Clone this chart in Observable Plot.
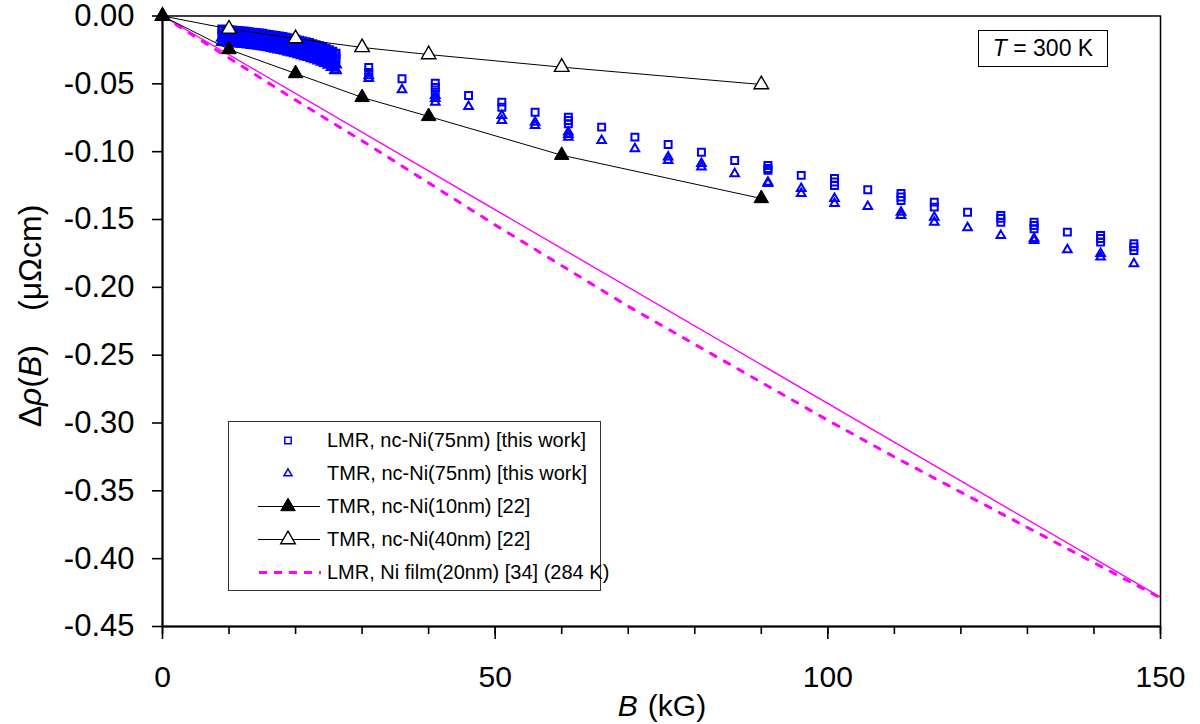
<!DOCTYPE html>
<html><head><meta charset="utf-8">
<script src="https://cdn.jsdelivr.net/npm/d3@7"></script>
<script src="https://cdn.jsdelivr.net/npm/@observablehq/plot@0.6"></script>
<style>
body{margin:0;background:#fff;font-family:"Liberation Sans",Arial,sans-serif;}
#wrap{position:relative;width:1200px;height:724px;}
#legend{position:absolute;left:228px;top:421px;width:373px;height:170px;border:1px solid #333;background:#fff;box-sizing:border-box;}
#legend .row{position:absolute;left:0;height:33px;display:flex;align-items:center;white-space:nowrap;font-size:20px;color:#000;}
#legend svg{display:block;}
#tbox{position:absolute;left:978px;top:30px;width:130px;height:37px;border:1px solid #000;box-sizing:border-box;background:#fff;font-size:23px;display:flex;align-items:center;justify-content:center;white-space:pre;}
</style></head><body><div id="wrap"></div><script>
// ---------- data ----------
const xMajorTicks = [0, 50, 100, 150];
const xMinorTicks = [0,10,20,30,40,50,60,70,80,90,100,110,120,130,140,150];
const yTicks = [0,-0.05,-0.10,-0.15,-0.20,-0.25,-0.30,-0.35,-0.40,-0.45];

// LMR / TMR nc-Ni(75nm): dense sweep region
const denseB = [9,9.5,10,10.5,11,11.5,12,12.5,13,13.5,14,14.5,15,15.5,16,16.5,17,17.5,18,18.5,19,19.5,20,20.5,21,21.5,22,22.5,23,23.5,24,24.5,25,25.5,26];
const lmrDenseA = [-0.0100,-0.0103,-0.0106,-0.0108,-0.0110,-0.0113,-0.0115,-0.0117,-0.0120,-0.0123,-0.0126,-0.0129,-0.0132,-0.0136,-0.0140,-0.0144,-0.0148,-0.0152,-0.0156,-0.0161,-0.0166,-0.0171,-0.0176,-0.0182,-0.0188,-0.0194,-0.0200,-0.0208,-0.0216,-0.0224,-0.0232,-0.0242,-0.0252,-0.0264,-0.0278];
const lmrDenseB = [-0.0135,-0.0139,-0.0141,-0.0144,-0.0146,-0.0147,-0.0151,-0.0152,-0.0156,-0.0158,-0.0162,-0.0164,-0.0168,-0.0171,-0.0176,-0.0179,-0.0184,-0.0187,-0.0192,-0.0196,-0.0202,-0.0206,-0.0212,-0.0217,-0.0224,-0.0229,-0.0236,-0.0243,-0.0252,-0.0259,-0.0268,-0.0277,-0.0288,-0.0299,-0.0314];
const tmrDenseA = [-0.0160,-0.0163,-0.0165,-0.0168,-0.0169,-0.0172,-0.0173,-0.0177,-0.0179,-0.0183,-0.0185,-0.0189,-0.0192,-0.0197,-0.0200,-0.0206,-0.0210,-0.0216,-0.0220,-0.0227,-0.0232,-0.0239,-0.0244,-0.0252,-0.0258,-0.0266,-0.0272,-0.0281,-0.0288,-0.0298,-0.0306,-0.0317,-0.0326,-0.0341,-0.0356];
const tmrDenseB = [-0.0190,-0.0192,-0.0195,-0.0197,-0.0199,-0.0201,-0.0203,-0.0206,-0.0209,-0.0212,-0.0215,-0.0218,-0.0222,-0.0226,-0.0230,-0.0235,-0.0240,-0.0245,-0.0250,-0.0256,-0.0262,-0.0268,-0.0274,-0.0281,-0.0288,-0.0295,-0.0302,-0.0310,-0.0318,-0.0327,-0.0336,-0.0346,-0.0358,-0.0375,-0.0398];

// discrete points (repeated measurements overlap)
const lmrB = [31,31,31,36,41,41,41,46,51,51,56,61,61,61,66,71,76,81,86,91,91,91,96,101,101,101,106,111,111,111,116,116,121,126,126,126,131,131,131,136,141,141,141,146,146,146];
const lmrV = [-0.0380,-0.0416,-0.0453,-0.0463,-0.0495,-0.0527,-0.0562,-0.0586,-0.0635,-0.0672,-0.0709,-0.0746,-0.0770,-0.0794,-0.0819,-0.0893,-0.0947,-0.1004,-0.1065,-0.1102,-0.1124,-0.1138,-0.1175,-0.1197,-0.1223,-0.1249,-0.1281,-0.1308,-0.1334,-0.1360,-0.1372,-0.1409,-0.1446,-0.1470,-0.1492,-0.1520,-0.1520,-0.1544,-0.1568,-0.1593,-0.1617,-0.1640,-0.1667,-0.1679,-0.1702,-0.1728];
const tmrB = [31,31,36,41,41,41,46,51,51,56,56,61,61,61,66,71,76,76,81,81,86,91,91,96,96,101,101,106,111,111,116,116,121,126,131,131,136,141,141,146];
const tmrV = [-0.0440,-0.0461,-0.0544,-0.0586,-0.0608,-0.0635,-0.0667,-0.0733,-0.0770,-0.0783,-0.0807,-0.0856,-0.0873,-0.0893,-0.0917,-0.0979,-0.1040,-0.1065,-0.1087,-0.1114,-0.1163,-0.1225,-0.1234,-0.1271,-0.1308,-0.1345,-0.1382,-0.1404,-0.1446,-0.1470,-0.1483,-0.1520,-0.1561,-0.1618,-0.1640,-0.1654,-0.1723,-0.1750,-0.1777,-0.1826];

// TMR nc-Ni(10nm) [22] and nc-Ni(40nm) [22]
const ni10B = [0,10,20,30,40,60,90];
const ni10V = [0,-0.0247,-0.0424,-0.0600,-0.0740,-0.1026,-0.1345];
const ni40B = [0,10,20,30,40,60,90];
const ni40V = [0,-0.0095,-0.0166,-0.0232,-0.0284,-0.0377,-0.0505];

// LMR Ni film(20nm) [34] (284 K), dashed, and straight solid line
const filmB = [0,10,20,30,40,50,60,70,80,90,100,110,120,130,140,150];
const filmV = [0,-0.031,-0.062,-0.092,-0.123,-0.154,-0.184,-0.214,-0.242,-0.270,-0.298,-0.325,-0.351,-0.377,-0.403,-0.429];
const lineB = [0,150];
const lineV = [0,-0.4284];

const legendLabels = ["LMR, nc-Ni(75nm) [this work]","TMR, nc-Ni(75nm) [this work]","TMR, nc-Ni(10nm) [22]","TMR, nc-Ni(40nm) [22]","LMR, Ni film(20nm) [34] (284 K)"];

// ---------- tables ----------
const zip = (bs, vs) => bs.map((b,i)=>({B:b, v:vs[i]}));
const lmrDense = [...zip(denseB,lmrDenseA), ...zip(denseB,lmrDenseB)];
const tmrDense = [...zip(denseB,tmrDenseA), ...zip(denseB,tmrDenseB)];
const lmr = zip(lmrB,lmrV), tmr = zip(tmrB,tmrV);
const ni10 = zip(ni10B, ni10V), ni40 = zip(ni40B, ni40V);
const film = zip(filmB, filmV), fit = zip(lineB, lineV);

const BLUE = "#0000FF", MAG = "#FF00FF";
const fontFam = "Liberation Sans, Arial, sans-serif";

const plot = Plot.plot({
  width: 1200, height: 724,
  marginLeft: 162, marginRight: 40, marginTop: 15.5, marginBottom: 98,
  x: {domain: [0, 150]},
  y: {domain: [-0.45, 0]},
  style: {fontFamily: fontFam, fontSize: "30px", color: "black", background: "white", overflow: "visible"},
  marks: [
    Plot.line(film, {x: "B", y: "v", stroke: MAG, strokeWidth: 3, strokeDasharray: "6,9.7"}),
    Plot.line(fit, {x: "B", y: "v", stroke: MAG, strokeWidth: 1.4}),
    Plot.dot(lmrDense, {x: "B", y: "v", symbol: "square", r: 4, stroke: BLUE, strokeWidth: 3, fill: "none"}),
    Plot.dot(tmrDense, {x: "B", y: "v", symbol: "triangle", r: 3.4, stroke: BLUE, strokeWidth: 3, fill: "none"}),
    Plot.dot(lmr, {x: "B", y: "v", symbol: "square", r: 3.9, stroke: BLUE, strokeWidth: 2, fill: "none"}),
    Plot.dot(tmr, {x: "B", y: "v", symbol: "triangle", r: 3.2, stroke: BLUE, strokeWidth: 2, fill: "none"}),
    Plot.line(ni40, {x: "B", y: "v", stroke: "black", strokeWidth: 1}),
    Plot.dot(ni40, {x: "B", y: "v", symbol: "triangle", r: 5.4, stroke: "black", strokeWidth: 1.4, fill: "white"}),
    Plot.line(ni10, {x: "B", y: "v", stroke: "black", strokeWidth: 1}),
    Plot.dot(ni10, {x: "B", y: "v", symbol: "triangle", r: 5.4, stroke: "black", strokeWidth: 1, fill: "black"}),
    Plot.axisY({ticks: yTicks, tickSize: 10, tickPadding: 18, tickFormat: d => d.toFixed(2), label: null, fontSize: 31, strokeWidth: 1.6}),
    Plot.axisX({ticks: xMinorTicks, tickSize: 8, tickFormat: () => "", label: null, strokeWidth: 1.6}),
    Plot.axisX({ticks: xMajorTicks, tickSize: 13, tickPadding: 26, tickFormat: d => String(d), label: null, fontSize: 30, strokeWidth: 1.6}),
    Plot.frame({stroke: "black", strokeWidth: 1.5}),
    Plot.ruleX([0], {stroke: "black", strokeWidth: 2}),
    Plot.ruleY([-0.45], {stroke: "black", strokeWidth: 2})
  ]
});

const wrap = document.getElementById("wrap");
wrap.appendChild(plot);

// axis titles with italic parts
const svg = d3.select(plot);
const yt = svg.append("text")
  .attr("transform", "translate(41,316) rotate(-90)")
  .attr("text-anchor", "middle")
  .attr("font-size", 32).attr("font-family", fontFam).attr("fill", "black");
yt.append("tspan").text("\u0394");
yt.append("tspan").attr("font-style", "italic").text("\u03C1");
yt.append("tspan").text("(");
yt.append("tspan").attr("font-style", "italic").text("B");
yt.append("tspan").text(")");
yt.append("tspan").attr("dx", 34).text("(\u03BC\u03A9cm)");

const xt = svg.append("text")
  .attr("x", 662).attr("y", 716)
  .attr("text-anchor", "middle")
  .attr("font-size", 30).attr("font-family", fontFam).attr("fill", "black");
xt.append("tspan").attr("font-style", "italic").text("B");
xt.append("tspan").attr("dx", 10).text("(kG)");

// legend
const legend = document.createElement("div");
legend.id = "legend";
wrap.appendChild(legend);
const sym = (type, r) => d3.symbol(type, Math.PI * r * r)();
legendLabels.forEach((label, i) => {
  const row = document.createElement("div");
  row.className = "row";
  row.style.top = (2 + i * 33) + "px";
  const s = d3.create("svg").attr("width", 98).attr("height", 33);
  const cx = 59, cy = 16.5;
  if (i === 0) {
    s.append("path").attr("d", sym(d3.symbolSquare, 3.6)).attr("transform", `translate(${cx},${cy})`)
      .attr("fill", "none").attr("stroke", BLUE).attr("stroke-width", 1.5);
  } else if (i === 1) {
    s.append("path").attr("d", sym(d3.symbolTriangle, 3.0)).attr("transform", `translate(${cx},${cy})`)
      .attr("fill", "none").attr("stroke", BLUE).attr("stroke-width", 1.5);
  } else if (i === 2 || i === 3) {
    s.append("line").attr("x1", 29).attr("x2", 91).attr("y1", cy).attr("y2", cy).attr("stroke", "black").attr("stroke-width", 1);
    s.append("path").attr("d", sym(d3.symbolTriangle, 5.4)).attr("transform", `translate(${cx},${cy})`)
      .attr("fill", i === 2 ? "black" : "white").attr("stroke", "black").attr("stroke-width", i === 2 ? 1 : 1.4);
  } else {
    s.append("line").attr("x1", 30).attr("x2", 92).attr("y1", cy).attr("y2", cy).attr("stroke", MAG)
      .attr("stroke-width", 3).attr("stroke-dasharray", "8,7");
  }
  row.appendChild(s.node());
  const t = document.createElement("span");
  t.textContent = label;
  row.appendChild(t);
  legend.appendChild(row);
});

// T = 300 K box
const tb = document.createElement("div");
tb.id = "tbox";
tb.innerHTML = "<i>T</i> = 300 K";
wrap.appendChild(tb);
</script></body></html>
